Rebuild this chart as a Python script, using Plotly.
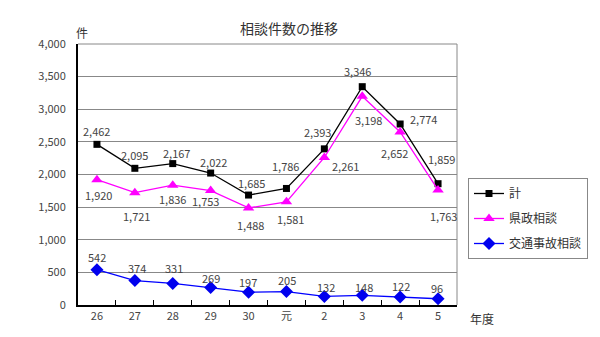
import plotly.graph_objects as go

years = ["26", "27", "28", "29", "30", "元", "2", "3", "4", "5"]
total = [2462, 2095, 2167, 2022, 1685, 1786, 2393, 3346, 2774, 1859]
kensei = [1920, 1721, 1836, 1753, 1488, 1581, 2261, 3198, 2652, 1763]
koutsu = [542, 374, 331, 269, 197, 205, 132, 148, 122, 96]

# label offsets in pixels (dx right, dy down) relative to each point
total_off = [(0, -13), (0, -13), (4, -11), (3, -11), (3, -12), (-1, -22), (-7, -17), (-5, -16), (23, -5), (3, -25)]
kensei_off = [(2, 15), (2, 23), (0, 14), (-5, 10), (2, 17), (4, 17), (21, 9), (6, 24), (-6, 21), (5, 26)]
koutsu_off = [(0, -13), (2, -13), (1, -15), (0, -9), (-1, -10), (1, -12), (2, -9), (2, -8), (1, -11), (-1, -11)]

FONT = "Noto Sans CJK JP"
TXT = "#444444"

fig = go.Figure()
fig.add_trace(go.Scatter(
    x=years, y=total, name="計", mode="lines+markers",
    line=dict(color="black", width=1.3),
    marker=dict(symbol="square", size=7, color="black"),
    legendgroup="a", cliponaxis=False,
))
fig.add_trace(go.Scatter(
    x=years, y=kensei, name="県政相談", mode="lines+markers",
    line=dict(color="#FF00FF", width=1.3),
    marker=dict(symbol="triangle-up", size=10, color="#FF00FF"),
    legendgroup="b", cliponaxis=False,
))
fig.add_trace(go.Scatter(
    x=years, y=koutsu, name="交通事故相談", mode="lines+markers",
    line=dict(color="#0000FF", width=1.3),
    marker=dict(symbol="diamond", size=10, color="#0000EE"),
    legendgroup="c", cliponaxis=False,
))

annotations = []
for series, offs in ((total, total_off), (kensei, kensei_off), (koutsu, koutsu_off)):
    for i, (v, (dx, dy)) in enumerate(zip(series, offs)):
        annotations.append(dict(
            x=i, y=v, xref="x", yref="y", text=f"{v:,}", showarrow=False,
            xanchor="center", yanchor="middle", xshift=dx, yshift=-dy,
            font=dict(size=11, color=TXT, family=FONT),
        ))

annotations += [
    dict(text="件", xref="paper", yref="paper", x=(82 - 78) / 379, y=(305 - 32) / 261,
         xanchor="center", yanchor="middle",
         showarrow=False, font=dict(size=12, color="#333333")),
    dict(text="年度", xref="paper", yref="paper", x=(482 - 78) / 379,
         y=(305 - 318) / 261, xanchor="center", yanchor="middle", showarrow=False,
         font=dict(size=12, color="#333333")),
]

fig.update_layout(
    width=600, height=337,
    margin=dict(l=78, r=143, t=44, b=32, autoexpand=False),
    paper_bgcolor="white", plot_bgcolor="white",
    font=dict(family=FONT, size=11, color=TXT),
    title=dict(text="相談件数の推移", x=289 / 600, xanchor="center",
               y=1 - 29 / 337, yanchor="middle",
               font=dict(size=14, color="#333333", family=FONT)),
    showlegend=True,
    legend=dict(x=(468 - 78) / 379, y=(305 - 178) / 261, xanchor="left", yanchor="top",
                bordercolor="#888888", borderwidth=1, bgcolor="white",
                font=dict(size=12, color="#333333", family=FONT),
                tracegroupgap=6, itemwidth=30),
    xaxis=dict(type="category", range=[-0.5, len(years) - 0.5], showline=True,
               linecolor="black", linewidth=2,
               ticks="inside", ticklen=5, tickcolor="black", tickson="boundaries",
               showgrid=False, tickfont=dict(size=11, color=TXT), fixedrange=True),
    yaxis=dict(range=[0, 4000], dtick=500, tickformat=",", showline=True,
               linecolor="black", linewidth=2, showgrid=True, gridcolor="#888888",
               gridwidth=1, ticks="", ticklabelstandoff=8,
               tickfont=dict(size=11, color=TXT), zeroline=False),
    annotations=annotations,
    shapes=[
        dict(type="line", xref="paper", yref="paper", x0=0, x1=1, y0=1, y1=1,
             line=dict(color="#888888", width=1)),
        dict(type="line", xref="paper", yref="paper", x0=1, x1=1, y0=0, y1=1,
             line=dict(color="#888888", width=1)),
    ],
)

fig.write_html("out.html")
